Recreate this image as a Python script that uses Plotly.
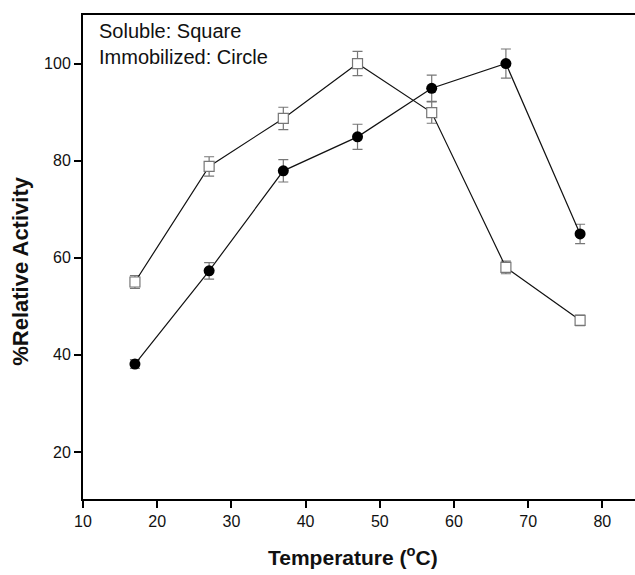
import plotly.graph_objects as go

temps = [17, 27, 37, 47, 57, 67, 77]
soluble = [55.0, 78.8, 88.7, 100.0, 89.9, 58.0, 47.1]
soluble_err = [1.3, 2.0, 2.3, 2.5, 2.2, 1.3, 1.1]
immobilized = [38.1, 57.3, 77.9, 84.9, 94.9, 100.0, 64.9]
immobilized_err = [0.9, 1.7, 2.3, 2.6, 2.7, 3.0, 2.0]

x_ticks = [10, 20, 30, 40, 50, 60, 70, 80]
y_ticks = [20, 40, 60, 80, 100]

FONT = "Liberation Sans, Arial, sans-serif"

fig = go.Figure()
fig.add_trace(go.Scatter(
    x=temps, y=soluble, mode="lines+markers",
    line=dict(color="#111111", width=1.2),
    marker=dict(symbol="square", size=10, color="white",
                line=dict(color="#777777", width=1.2)),
    error_y=dict(type="data", array=soluble_err, color="#777777",
                 thickness=1.2, width=5),
    showlegend=False,
))
fig.add_trace(go.Scatter(
    x=temps, y=immobilized, mode="lines+markers",
    line=dict(color="#111111", width=1.2),
    marker=dict(symbol="circle", size=11, color="black",
                line=dict(color="black", width=0)),
    error_y=dict(type="data", array=immobilized_err, color="#777777",
                 thickness=1.2, width=5),
    showlegend=False,
))

axis_font = dict(family=FONT, size=16, color="#111111")
fig.update_layout(
    width=635, height=575,
    margin=dict(l=83, r=0, t=15, b=76),
    paper_bgcolor="white", plot_bgcolor="white",
    xaxis=dict(range=[10, 84.4], tickvals=x_ticks, ticks="outside", ticklen=7,
               tickwidth=1.5, tickcolor="black", showline=True, linecolor="black",
               linewidth=2, mirror=True, showgrid=False, zeroline=False,
               tickfont=axis_font),
    yaxis=dict(range=[10.3, 110], tickvals=y_ticks, ticks="outside", ticklen=7,
               tickwidth=1.5, tickcolor="black", showline=True, linecolor="black",
               linewidth=2, showgrid=False, zeroline=False, tickfont=axis_font),
    font=dict(family=FONT),
    annotations=[
        dict(text="Soluble: Square<br>Immobilized: Circle", xref="paper", yref="paper",
             x=0.025, y=0.993, xanchor="left", yanchor="top", showarrow=False, align="left",
             font=dict(family=FONT, size=20, color="#111111")),
        dict(text="<b>%Relative Activity</b>", xref="paper", yref="paper",
             x=-0.14, y=0.47, xanchor="left", yanchor="middle", textangle=-90, showarrow=False,
             font=dict(family=FONT, size=22, color="#111111")),
        dict(text="<b>Temperature (<sup>o</sup>C)</b>", xref="paper", yref="paper",
             x=0.49, y=-0.117, xanchor="center", yanchor="middle", showarrow=False,
             font=dict(family=FONT, size=21, color="#111111")),
    ],
)

fig.write_html("out.html")
